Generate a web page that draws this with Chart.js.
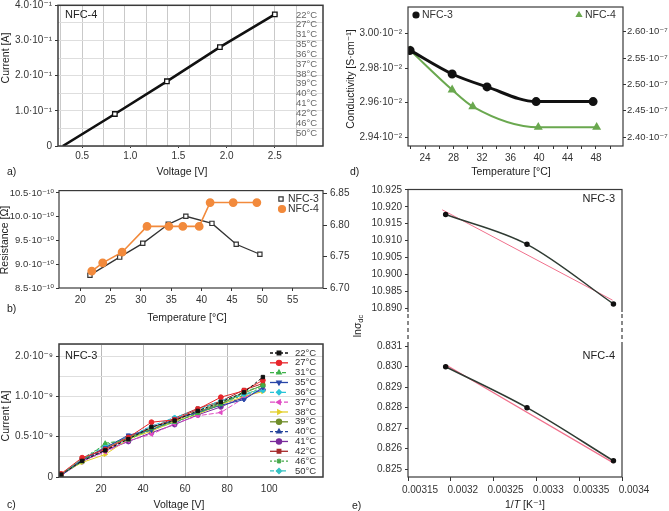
<!DOCTYPE html>
<html>
<head>
<meta charset="utf-8">
<title>NFC-3 / NFC-4 electrical data</title>
<script src="https://cdn.jsdelivr.net/npm/chart.js@4.4.1/dist/chart.umd.min.js"></script>
<style>
  html, body { margin: 0; padding: 0; background: #fff; }
  #fig { position: relative; width: 669px; height: 511px; overflow: hidden; background: #fff; }
  #fig canvas { position: absolute; }
</style>
</head>
<body>
<div id="fig">
  <canvas id="pa" width="340" height="185" style="left:0;top:0"></canvas>
  <canvas id="pb" width="365" height="145" style="left:0;top:185px"></canvas>
  <canvas id="pc" width="340" height="181" style="left:0;top:330px"></canvas>
  <canvas id="pd" width="329" height="185" style="left:340px;top:0"></canvas>
  <canvas id="pe" width="329" height="327" style="left:340px;top:184px"></canvas>
</div>
<script>
// ---------- data ----------
const temps = ['22°C', '27°C', '31°C', '35°C', '36°C', '37°C', '38°C', '39°C', '40°C', '41°C', '42°C', '46°C', '50°C'];

// a) I-V of NFC-4 (all temperatures overlap)
const voltA = [0.3, 0.84, 1.38, 1.93, 2.5];
const currA = [0, 0.091, 0.184, 0.281, 0.374];
const tickValsAx = [0.5, 1.0, 1.5, 2.0, 2.5];
const tickLabelsAx = ['0.5', '1.0', '1.5', '2.0', '2.5'];
const tickValsA = [0, 0.1, 0.2, 0.3, 0.4];
const tickLabelsA = ['0', '1.0·10⁻¹', '2.0·10⁻¹', '3.0·10⁻¹', '4.0·10⁻¹'];

// b) resistance vs temperature
const tempB3 = [21.6, 26.5, 30.3, 34.5, 37.4, 41.7, 45.7, 49.6];
const resB3 = [8.77, 9.15, 9.44, 9.84, 10.01, 9.86, 9.42, 9.21];
const tempB4 = [21.9, 23.7, 26.9, 31.0, 34.6, 36.9, 39.6, 41.4, 45.2, 49.1];
const resB4 = [6.727, 6.740, 6.757, 6.798, 6.798, 6.798, 6.798, 6.836, 6.836, 6.836];
const tickValsBx = [20, 25, 30, 35, 40, 45, 50, 55];
const tickValsB = [8.5, 9.0, 9.5, 10.0, 10.5];
const tickLabelsB = ['8.5·10⁻¹⁰', '9.0·10⁻¹⁰', '9.5·10⁻¹⁰', '10.0·10⁻¹⁰', '10.5·10⁻¹⁰'];
const tickValsB4 = [6.70, 6.75, 6.80, 6.85];
const tickLabelsB4 = ['6.70', '6.75', '6.80', '6.85'];

// c) I-V of NFC-3, one curve per temperature (units of 1e-9 A as drawn)
const voltC = [1, 11, 22, 33, 44, 55, 66, 77, 88, 97];
const cur22 = [0.03, 0.20, 0.33, 0.47, 0.62, 0.70, 0.82, 0.93, 1.05, 1.24];
const cur27 = [0.04, 0.24, 0.34, 0.49, 0.68, 0.71, 0.84, 0.99, 1.07, 1.20];
const cur31 = [0.03, 0.19, 0.42, 0.46, 0.60, 0.68, 0.79, 0.90, 1.06, 1.13];
const cur35 = [0.02, 0.21, 0.36, 0.52, 0.58, 0.72, 0.80, 0.89, 0.96, 1.11];
const cur36 = [0.03, 0.23, 0.38, 0.50, 0.63, 0.74, 0.83, 0.95, 1.02, 1.07];
const cur37 = [0.02, 0.20, 0.31, 0.45, 0.53, 0.66, 0.76, 0.80, 0.98, 1.09];
const cur38 = [0.04, 0.18, 0.28, 0.47, 0.57, 0.69, 0.78, 0.90, 1.00, 1.06];
const cur39 = [0.03, 0.22, 0.35, 0.49, 0.59, 0.70, 0.81, 0.91, 1.04, 1.14];
const cur40 = [0.03, 0.21, 0.34, 0.47, 0.64, 0.67, 0.80, 0.92, 0.97, 1.10];
const cur41 = [0.02, 0.19, 0.33, 0.44, 0.55, 0.65, 0.77, 0.87, 0.99, 1.08];
const cur42 = [0.03, 0.21, 0.37, 0.50, 0.61, 0.73, 0.85, 0.94, 1.08, 1.16];
const cur46 = [0.04, 0.23, 0.40, 0.48, 0.61, 0.71, 0.82, 0.93, 1.01, 1.12];
const cur50 = [0.03, 0.20, 0.32, 0.48, 0.58, 0.68, 0.79, 0.90, 1.03, 1.09];
const seriesC = [cur22, cur27, cur31, cur35, cur36, cur37, cur38, cur39, cur40, cur41, cur42, cur46, cur50];
const tickValsCx = [20, 40, 60, 80, 100];
const tickValsC = [0, 0.5, 1.0, 1.5];
const tickLabelsC = ['0', '0.5·10⁻⁹', '1.0·10⁻⁹', '2.0·10⁻⁹'];

// d) conductivity vs temperature
const tempD3 = [21.9, 27.8, 32.7, 39.6, 47.6];
const condD3 = [2.9903, 2.9766, 2.9691, 2.9606, 2.9606];
const tempD4 = [21.9, 27.8, 30.7, 39.9, 48.1];
const condD4 = [2.5645, 2.4897, 2.4580, 2.4187, 2.4187];
const tickValsDx = [22, 24, 26, 28, 30, 32, 34, 36, 38, 40, 42, 44, 46, 48, 50];
const tickLabelsDx = ['', '24', '', '28', '', '32', '', '36', '', '40', '', '44', '', '48', ''];
const tickValsD3 = [2.94, 2.96, 2.98, 3.00];
const tickLabelsD3 = ['2.94·10⁻²', '2.96·10⁻²', '2.98·10⁻²', '3.00·10⁻²'];
const tickValsD4 = [2.40, 2.45, 2.50, 2.55, 2.60];
const tickLabelsD4 = ['2.40·10⁻⁷', '2.45·10⁻⁷', '2.50·10⁻⁷', '2.55·10⁻⁷', '2.60·10⁻⁷'];

// e) ln(sigma_dc) vs 1/T, with linear fits
const invT = [0.003194, 0.003289, 0.00339];
const lnE3 = [10.9177, 10.9089, 10.8913];
const fitE3x = [0.00319, 0.003389];
const fitE3y = [10.9191, 10.8924];
const lnE4 = [0.8300, 0.8280, 0.8254];
const fitE4x = [0.003194, 0.00339];
const fitE4y = [0.8301, 0.8253];
const tickValsEx = [0.00315, 0.0032, 0.00325, 0.0033, 0.00335, 0.0034];
const tickLabelsEx = ['0.00315', '0.0032', '0.00325', '0.0033', '0.00335', '0.0034'];
const tickValsEhi = [10.890, 10.895, 10.900, 10.905, 10.910, 10.915, 10.920, 10.925];
const tickLabelsEhi = ['10.890', '10.985', '10.900', '10.905', '10.910', '10.915', '10.920', '10.925'];
const tickValsElo = [0.825, 0.826, 0.827, 0.828, 0.829, 0.830, 0.831];
const tickLabelsElo = ['0.825', '0.826', '0.827', '0.828', '0.829', '0.830', '0.831'];

// ---------- styles ----------
const FONT = "'Liberation Sans', Arial, 'DejaVu Sans', sans-serif";
const AX = '#333';
const colorsC = ['#111111', '#e8262b', '#3db14a', '#2845a8', '#29c4d8', '#e04bc3', '#e3cf2a',
                 '#6f8d2a', '#24449c', '#7a2b9c', '#a52a2a', '#46a84a', '#35c2c2'];
const marksC = [['rect', 0], ['circle', 0], ['triangle', 0], ['triangle', 180], ['rectRot', 0], ['triangle', -90],
                ['triangle', 90], ['circle', 0], ['triangle', 0], ['circle', 0], ['rect', 0], ['star', 0], ['rectRot', 0]];
const dashC = [[3, 2], [], [4, 2], [], [4, 2], [5, 2], [], [], [3, 2], [], [], [2, 2], [4, 2]];

Chart.defaults.font.family = FONT;
Chart.defaults.font.size = 10;
Chart.defaults.color = AX;

// ---------- helpers ----------
const fitW = w => s => { s.width = w; s.paddingTop = s.paddingBottom = s.paddingLeft = s.paddingRight = 0; };
const fitH = h => s => { s.height = h; s.paddingTop = s.paddingBottom = s.paddingLeft = s.paddingRight = 0; };
const setTicks = vals => s => { s.ticks = vals.map(v => ({ value: v })); };
const near = (a, b) => Math.abs(a - b) < 1e-9;
const pick = (vals, labels) => v => { const i = vals.findIndex(t => near(t, v)); return i < 0 ? '' : labels[i]; };
const pts = (xs, ys) => xs.map((x, i) => ({ x, y: ys[i] }));
const common = { responsive: false, animation: false, events: [],
  plugins: { legend: { display: false }, tooltip: { enabled: false } } };
const axisGrid = (len) => ({ drawOnChartArea: false, tickLength: len, color: AX });

function drawRich(ctx, item) {
  const parts = typeof item.t === 'string' ? [{ t: item.t }] : item.t;
  const size = item.size || 10.5;
  const fontOf = p => `${p.style || ''} ${p.size || size}px ${FONT}`;
  ctx.save();
  ctx.translate(item.x, item.y);
  if (item.rot) ctx.rotate(item.rot * Math.PI / 180);
  ctx.fillStyle = item.color || '#222';
  ctx.textBaseline = 'middle';
  ctx.textAlign = 'left';
  let total = 0;
  for (const p of parts) { ctx.font = fontOf(p); total += ctx.measureText(p.t).width; }
  let x = item.align === 'left' ? 0 : item.align === 'right' ? -total : -total / 2;
  for (const p of parts) {
    ctx.font = fontOf(p);
    ctx.fillText(p.t, x, p.dy || 0);
    x += ctx.measureText(p.t).width;
  }
  ctx.restore();
}

// panel labels, axis titles, keys, frames (positions in figure pixels)
const decorations = {
  pa: { ox: 0, oy: 0, frame: 1.5, texts: [
    { t: 'NFC-4', x: 65, y: 15, align: 'left', size: 11 },
    ...temps.map((t, i) => ({ t, x: 296, y: 15 + i * 9.83, align: 'left', size: 9.5, color: '#666' })),
    { t: 'Current [A]', x: 6, y: 58, rot: -90 },
    { t: 'Voltage [V]', x: 182, y: 172 },
    { t: 'a)', x: 7, y: 172, align: 'left' }
  ] },
  pb: { ox: 0, oy: 185, frame: 1.2,
    keys: [
      { style: 'rect', color: '#333', fill: '#fff', x: 281, y: 199, r: 3, text: 'NFC-3', tx: 288 },
      { style: 'circle', color: '#f28a3c', x: 282, y: 209, r: 3.5, text: 'NFC-4', tx: 288 }
    ],
    texts: [
      { t: 'Resistance [Ω]', x: 5, y: 240, rot: -90 },
      { t: 'Temperature [°C]', x: 187, y: 318 },
      { t: 'b)', x: 7, y: 309, align: 'left' }
    ] },
  pc: { ox: 0, oy: 330, frame: 1.5,
    keys: temps.map((t, i) => ({ style: marksC[i][0], rot: marksC[i][1], color: colorsC[i], x: 279, y: 353 + i * 9.83,
      r: 2.6, line: [270, 288], dash: dashC[i], text: t, tx: 295, size: 9.5 })),
    texts: [
      { t: 'NFC-3', x: 65, y: 356, align: 'left', size: 11 },
      { t: 'Current [A]', x: 6, y: 416, rot: -90 },
      { t: 'Voltage [V]', x: 179, y: 505 },
      { t: 'c)', x: 7, y: 505, align: 'left' }
    ] },
  pd: { ox: 340, oy: 0, frame: 1.2,
    keys: [
      { style: 'circle', color: '#111', x: 416, y: 15, r: 3, text: 'NFC-3', tx: 422 },
      { style: 'triangle', color: '#6aa84f', x: 579, y: 15, r: 3, text: 'NFC-4', tx: 585 }
    ],
    texts: [
      { t: 'Conductivity [S·cm⁻¹]', x: 351, y: 79, rot: -90 },
      { t: 'Temperature [°C]', x: 511, y: 172 },
      { t: 'd)', x: 350, y: 172, align: 'left' }
    ] },
  pe: { ox: 340, oy: 184, frame: 1.2, gaps: { x: [408, 622], y0: 312, y1: 342 },
    texts: [
      { t: 'NFC-3', x: 615, y: 199, align: 'right', size: 11 },
      { t: 'NFC-4', x: 615, y: 356, align: 'right', size: 11 },
      { t: [{ t: 'lnσ' }, { t: 'dc', size: 7.5, dy: 3 }], x: 358, y: 326, rot: -90 },
      { t: [{ t: '1/' }, { t: 'T', style: 'italic' }, { t: ' [K⁻¹]' }], x: 525, y: 505 },
      { t: 'e)', x: 352, y: 506, align: 'left' }
    ] }
};

Chart.register({
  id: 'decor',
  afterDraw(chart) {
    const o = decorations[chart.canvas.id];
    if (!o) return;
    const ctx = chart.ctx, a = chart.chartArea;
    ctx.save();
    ctx.strokeStyle = '#3a3a3a';
    ctx.lineWidth = o.frame;
    ctx.strokeRect(a.left, a.top, a.right - a.left, a.bottom - a.top);
    ctx.translate(-o.ox, -o.oy);
    if (o.gaps) {
      for (const gx of o.gaps.x) {
        ctx.fillStyle = '#fff';
        ctx.fillRect(gx - 3, o.gaps.y0, 6, o.gaps.y1 - o.gaps.y0);
        ctx.strokeStyle = '#3a3a3a';
        ctx.lineWidth = 1.2;
        ctx.setLineDash([4, 3]);
        ctx.beginPath(); ctx.moveTo(gx, o.gaps.y0 + 2); ctx.lineTo(gx, o.gaps.y1 - 2); ctx.stroke();
        ctx.setLineDash([]);
      }
    }
    for (const k of o.keys || []) {
      if (k.line) {
        ctx.strokeStyle = k.color; ctx.lineWidth = 1.3; ctx.setLineDash(k.dash || []);
        ctx.beginPath(); ctx.moveTo(k.line[0], k.y); ctx.lineTo(k.line[1], k.y); ctx.stroke();
        ctx.setLineDash([]);
      }
      ctx.fillStyle = k.fill || k.color; ctx.strokeStyle = k.color; ctx.lineWidth = 1.2;
      Chart.helpers.drawPoint(ctx, { pointStyle: k.style, rotation: k.rot || 0, radius: k.r, borderWidth: 1.2 }, k.x, k.y);
      drawRich(ctx, { t: k.text, x: k.tx, y: k.y, align: 'left', size: k.size || 10.5, color: '#333' });
    }
    for (const t of o.texts || []) drawRich(ctx, t);
    ctx.restore();
  }
});

// ---------- a) ----------
const gridA = Array.from({ length: 12 }, (_, k) => 0.5 + (k - 1) * 2 / 9);
new Chart(document.getElementById('pa'), {
  type: 'line',
  data: { datasets: [{
    data: pts(voltA, currA), borderColor: '#111', borderWidth: 2.6,
    pointStyle: 'rect', pointRadius: voltA.map((x, i) => i ? 3.2 : 0),
    pointBackgroundColor: '#fff', pointBorderColor: '#111', pointBorderWidth: 1.3
  }] },
  options: { ...common,
    layout: { padding: { top: 5, right: 17, left: 0, bottom: 0 } },
    scales: {
      x: { type: 'linear', min: 0.25, max: 3.0, bounds: 'data', afterFit: fitH(39), afterBuildTicks: setTicks(tickValsAx),
        ticks: { maxRotation: 0, autoSkip: false, padding: 2, callback: (v, i) => tickLabelsAx[i] },
        grid: axisGrid(2), border: { display: false } },
      xg: { type: 'linear', position: 'bottom', min: 0.25, max: 3.0, bounds: 'data', afterFit: fitH(0),
        afterBuildTicks: setTicks(gridA), ticks: { display: false },
        grid: { color: '#c9c9c9', drawTicks: false }, border: { display: false } },
      y: { min: 0, max: 0.4, bounds: 'data', afterFit: fitW(58),
        ticks: { stepSize: 0.05, autoSkip: false, callback: pick(tickValsA, tickLabelsA) },
        grid: { color: '#dedede', tickLength: 3,
          tickColor: c => tickValsA.some(t => near(t, c.tick.value)) ? AX : 'transparent' },
        border: { display: false } }
    }
  }
});

// ---------- b) ----------
new Chart(document.getElementById('pb'), {
  type: 'line',
  data: { datasets: [
    { data: pts(tempB4, resB4), yAxisID: 'y2', borderColor: '#f28a3c', borderWidth: 1.6,
      pointStyle: 'circle', pointRadius: 3.6, pointBackgroundColor: '#f28a3c', pointBorderColor: '#f28a3c' },
    { data: pts(tempB3, resB3), yAxisID: 'y', borderColor: '#333', borderWidth: 1.3,
      pointStyle: 'rect', pointRadius: 3, pointBackgroundColor: '#fff', pointBorderColor: '#333', pointBorderWidth: 1.2 }
  ] },
  options: { ...common,
    layout: { padding: { top: 5, right: 0, left: 0, bottom: 0 } },
    scales: {
      x: { type: 'linear', min: 16.5, max: 60, bounds: 'data', afterFit: fitH(42), afterBuildTicks: setTicks(tickValsBx),
        ticks: { maxRotation: 0, autoSkip: false, callback: v => String(v) },
        grid: axisGrid(3), border: { display: false } },
      y: { min: 8.5, max: 10.55, bounds: 'data', afterFit: fitW(59), afterBuildTicks: setTicks(tickValsB),
        ticks: { autoSkip: false, padding: 2, font: { size: 9.5 }, callback: (v, i) => tickLabelsB[i] },
        grid: axisGrid(3), border: { display: false } },
      y2: { position: 'right', min: 6.7, max: 6.855, bounds: 'data', afterFit: fitW(42), afterBuildTicks: setTicks(tickValsB4),
        ticks: { autoSkip: false, callback: (v, i) => tickLabelsB4[i] }, grid: axisGrid(4), border: { display: false } }
    }
  }
});

// ---------- c) ----------
new Chart(document.getElementById('pc'), {
  type: 'line',
  data: { datasets: seriesC.map((ys, i) => ({
    data: pts(voltC, ys), borderColor: colorsC[i], borderWidth: 1, borderDash: dashC[i],
    pointStyle: marksC[i][0], rotation: marksC[i][1], pointRadius: 2.4,
    pointBackgroundColor: colorsC[i], pointBorderColor: colorsC[i], pointBorderWidth: 1
  })) },
  options: { ...common,
    layout: { padding: { top: 14, right: 17, left: 0, bottom: 0 } },
    scales: {
      x: { type: 'linear', min: 0, max: 125.6, bounds: 'data', afterFit: fitH(34), afterBuildTicks: setTicks(tickValsCx),
        ticks: { maxRotation: 0, autoSkip: false, callback: v => String(v) },
        grid: { color: c => c.tick.value <= 80 ? '#b9b9b9' : 'transparent', tickColor: 'transparent', tickLength: 3 },
        border: { display: false } },
      y: { min: 0, max: 1.65, bounds: 'data', afterFit: fitW(59),
        ticks: { stepSize: 0.25, includeBounds: false, autoSkip: false, callback: pick(tickValsC, tickLabelsC) },
        grid: { color: '#dedede', tickLength: 3,
          tickColor: c => tickValsC.some(t => near(t, c.tick.value)) ? AX : 'transparent' },
        border: { display: false } }
    }
  }
});

// ---------- d) ----------
new Chart(document.getElementById('pd'), {
  type: 'line',
  data: { datasets: [
    { data: pts(tempD3, condD3), yAxisID: 'y', borderColor: '#111', borderWidth: 3, cubicInterpolationMode: 'monotone',
      pointStyle: 'circle', pointRadius: 3, pointBackgroundColor: '#111', pointBorderColor: '#111' },
    { data: pts(tempD4, condD4), yAxisID: 'y2', borderColor: '#6aa84f', borderWidth: 2, cubicInterpolationMode: 'monotone',
      pointStyle: 'triangle', pointRadius: 3.2, pointBackgroundColor: '#6aa84f', pointBorderColor: '#6aa84f' }
  ] },
  options: { ...common,
    layout: { padding: { top: 5, right: 0, left: 0, bottom: 0 } },
    scales: {
      x: { type: 'linear', min: 21.6, max: 51.8, bounds: 'data', afterFit: fitH(39), afterBuildTicks: setTicks(tickValsDx),
        ticks: { maxRotation: 0, autoSkip: false, callback: (v, i) => tickLabelsDx[i] },
        grid: axisGrid(3), border: { display: false } },
      y: { min: 2.9348, max: 3.0155, bounds: 'data', afterFit: fitW(68), afterBuildTicks: setTicks(tickValsD3),
        ticks: { autoSkip: false, callback: (v, i) => tickLabelsD3[i] }, grid: axisGrid(3), border: { display: false } },
      y2: { position: 'right', min: 2.3832, max: 2.6467, bounds: 'data', afterFit: fitW(46), afterBuildTicks: setTicks(tickValsD4),
        ticks: { autoSkip: false, padding: 1, font: { size: 9.5 }, callback: (v, i) => tickLabelsD4[i] },
        grid: axisGrid(3), border: { display: false } }
    }
  }
});

// ---------- e) ----------
new Chart(document.getElementById('pe'), {
  type: 'line',
  data: { datasets: [
    { data: pts(invT, lnE3), yAxisID: 'yHi', borderColor: '#2f3b33', borderWidth: 1.5, cubicInterpolationMode: 'monotone',
      pointRadius: 2, pointBackgroundColor: '#111', pointBorderColor: '#111' },
    { data: pts(invT, lnE4), yAxisID: 'yLo', borderColor: '#2f3b33', borderWidth: 1.5, cubicInterpolationMode: 'monotone',
      pointRadius: 2, pointBackgroundColor: '#111', pointBorderColor: '#111' },
    { data: pts(fitE3x, fitE3y), yAxisID: 'yHi', borderColor: '#f0708c', borderWidth: 1, pointRadius: 0 },
    { data: pts(fitE4x, fitE4y), yAxisID: 'yLo', borderColor: '#f0708c', borderWidth: 1.2, pointRadius: 0 }
  ] },
  options: { ...common,
    layout: { padding: { top: 5, right: 47, left: 0, bottom: 0 } },
    scales: {
      x: { type: 'linear', min: 0.00315, max: 0.0034, bounds: 'data', afterFit: fitH(34), afterBuildTicks: setTicks(tickValsEx),
        ticks: { autoSkip: false, maxRotation: 0, labelOffset: 12, callback: (v, i) => tickLabelsEx[i] },
        grid: axisGrid(4), border: { display: false } },
      yLo: { position: 'left', stack: 'e', stackWeight: 150, min: 0.82461, max: 0.83193, bounds: 'data',
        afterFit: fitW(68), afterBuildTicks: setTicks(tickValsElo),
        ticks: { autoSkip: false, callback: (v, i) => tickLabelsElo[i] }, grid: axisGrid(3), border: { display: false } },
      yHi: { position: 'left', stack: 'e', stackWeight: 138, min: 10.8844, max: 10.9251, bounds: 'data',
        afterFit: fitW(68), afterBuildTicks: setTicks(tickValsEhi),
        ticks: { autoSkip: false, callback: (v, i) => tickLabelsEhi[i] }, grid: axisGrid(3), border: { display: false } }
    }
  }
});
</script>
</body>
</html>
